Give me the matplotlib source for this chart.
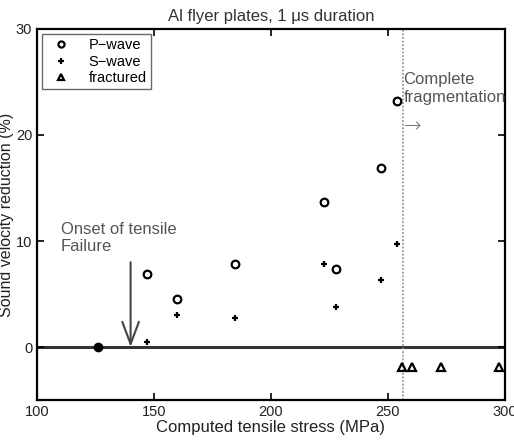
import matplotlib
matplotlib.use('Agg')
import matplotlib.pyplot as plt
import numpy as np

plt.rcParams['font.family'] = ['Liberation Sans', 'DejaVu Sans']

# data
p_x = [147.1, 159.7, 184.7, 222.8, 227.8, 247.2, 253.7]
p_y = [6.9, 4.5, 7.8, 13.7, 7.4, 16.9, 23.2]
s_x = [147.1, 159.7, 184.7, 222.8, 227.8, 247.2, 253.7]
s_y = [0.5, 3.0, 2.7, 7.8, 3.8, 6.3, 9.7]
frac_x = [255.8, 260.1, 272.5, 297.3]
frac_y = [-1.9, -1.9, -1.9, -1.9]
ref_x = [125.9]
ref_y = [0.0]
onset_x = 140
frag_x = 256.3

fig = plt.figure(figsize=(5.14, 4.40), dpi=100)
ax = fig.add_axes([37/514, 40/440, 468/514, 371/440])

ax.axhline(0, color='#333333', lw=2.2, zorder=1)
ax.axvline(frag_x, color='#999999', lw=1.3, ls=(0, (1, 1)), zorder=1)

ax.plot(p_x, p_y, 'o', mfc='none', mec='black', mew=1.6, ms=5.5, label='P\u2212wave')
ax.plot(s_x, s_y, '+', color='black', mew=1.6, ms=5, label='S\u2212wave')
ax.plot(frac_x, frac_y, '^', mfc='none', mec='black', mew=1.6, ms=5.5, label='fractured')
ax.plot(ref_x, ref_y, 'o', color='black', ms=6, zorder=3)

ax.annotate('', xy=(onset_x, 0), xytext=(onset_x, 8.0),
            arrowprops=dict(arrowstyle='->,head_length=1.6,head_width=0.6',
                            color='#444444', lw=1.5, shrinkA=0, shrinkB=0))
ax.text(110.3, 11.8, 'Onset of tensile\nFailure', color='#555555', fontsize=12,
        va='top', ha='left', linespacing=1.2)
ax.text(256.6, 25.9, 'Complete\nfragmentation', color='#555555', fontsize=12,
        va='top', ha='left', linespacing=1.2)
ax.text(256.6, 20.8, '\u2192', color='#777777', fontsize=15,
        va='center', ha='left', family='DejaVu Sans', fontweight='light')

ax.set_xlim(100, 300)
ax.set_ylim(-5, 30)
ax.set_xticks([100, 150, 200, 250, 300])
ax.set_yticks([0, 10, 20, 30])
ax.tick_params(direction='in', top=True, right=True, length=5, width=1.2,
               labelsize=10.5, colors='black', labelcolor='#222222')
for sp in ax.spines.values():
    sp.set_linewidth(1.6)

ax.set_xlabel('Computed tensile stress (MPa)', fontsize=12, color='#222222', labelpad=1)
ax.set_ylabel('Sound velocity reduction (%)', fontsize=11.5, color='#222222', labelpad=1)
ax.set_title('Al flyer plates, 1 \u03bcs duration', fontsize=12, color='#333333', pad=6)

leg = ax.legend(loc='upper left', fontsize=10.5, frameon=True, fancybox=False,
                edgecolor='#444444', borderaxespad=0.35, handletextpad=0.9,
                labelspacing=0.15, borderpad=0.3, markerscale=0.8)
leg.get_frame().set_linewidth(1.0)

fig.savefig('out.png', dpi=100)
